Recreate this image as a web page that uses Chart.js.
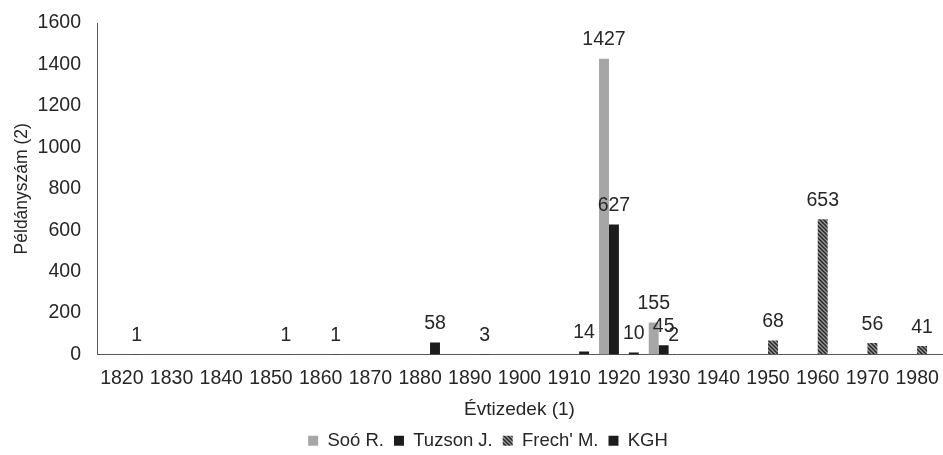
<!DOCTYPE html>
<html>
<head>
<meta charset="utf-8">
<script src="https://cdn.jsdelivr.net/npm/chart.js@4"></script>
<style>
  html, body { margin: 0; padding: 0; background: #fff; }
  #wrap { width: 943px; height: 455px; }
</style>
</head>
<body>
<div id="wrap"><canvas id="chart"></canvas></div>
<script>
// decades on the x axis
const decades = ['1820', '1830', '1840', '1850', '1860', '1870', '1880', '1890', '1900',
                 '1910', '1920', '1930', '1940', '1950', '1960', '1970', '1980'];

// specimen counts per collector (null = no bar, no label)
const sooR    = [null, null, null, null, null, null, null, null, null, null, 1427, 155, null, null, null, null, null];
const tuzsonJ = [null, null, null, null, null, null, null, null, null, null, 627, 45, null, null, null, null, null];
const frechM  = [null, null, null, null, null, null, null, null, null, null, null, 2, null, 68, 653, 56, 41];
const kgh     = [1, null, null, 1, 1, null, 58, 3, null, 14, 10, null, null, null, null, null, null];

const yTicks = [0, 200, 400, 600, 800, 1000, 1200, 1400, 1600];

const FONT = '"Liberation Sans", Arial, sans-serif';
const TEXT = '#262626';

// diagonal hatch for Frech' M.
function makeHatch() {
    const c = document.createElement('canvas');
    c.width = 4; c.height = 4;
    const g = c.getContext('2d');
    g.fillStyle = '#9a9a9a';
    g.fillRect(0, 0, 4, 4);
    g.strokeStyle = '#262626';
    g.lineWidth = 1.5;
    g.beginPath();
    g.moveTo(-1, -1); g.lineTo(5, 5);
    g.moveTo(-3, 1); g.lineTo(1, 5);
    g.moveTo(3, -1); g.lineTo(5, 1);
    g.stroke();
    return g.createPattern(c, 'repeat');
}

// value labels above bars
const valueLabels = {
    id: 'valueLabels',
    afterDatasetsDraw(chart) {
        const ctx = chart.ctx;
        ctx.save();
        ctx.font = '19.5px ' + FONT;
        ctx.fillStyle = TEXT;
        ctx.textAlign = 'center';
        ctx.textBaseline = 'bottom';
        chart.data.datasets.forEach((ds, i) => {
            const meta = chart.getDatasetMeta(i);
            meta.data.forEach((bar, j) => {
                const v = ds.data[j];
                if (v === null || v === undefined) return;
                ctx.fillText(String(v), bar.x, bar.y - 9);
            });
        });
        ctx.restore();
    }
};

const hatch = makeHatch();

new Chart(document.getElementById('chart'), {
    type: 'bar',
    data: {
        labels: decades,
        datasets: [
            { label: 'Soó R.', data: sooR, backgroundColor: '#a6a6a6', borderWidth: 0 },
            { label: 'Tuzson J.', data: tuzsonJ, backgroundColor: '#1c1c1c', borderWidth: 0 },
            { label: "Frech' M.", data: frechM, backgroundColor: hatch, borderWidth: 0 },
            { label: 'KGH', data: kgh, backgroundColor: '#1c1c1c', borderWidth: 0 }
        ]
    },
    options: {
        responsive: true,
        maintainAspectRatio: false,
        animation: false,
        devicePixelRatio: 1,
        layout: { padding: { top: 0, right: 1, left: 34, bottom: -5 } },
        datasets: { bar: { categoryPercentage: 0.8, barPercentage: 1.0 } },
        scales: {
            x: {
                grid: { display: false, drawTicks: false },
                border: { display: true, color: '#595959', width: 1 },
                ticks: { color: TEXT, font: { family: FONT, size: 19.5 }, padding: 12, maxRotation: 0, autoSkip: false },
                title: { display: true, text: 'Évtizedek (1)', color: TEXT, font: { family: FONT, size: 19 }, padding: { top: 8, bottom: 0 } },
                afterFit: (scale) => { scale.paddingLeft = 0; scale.paddingRight = 0; scale.height = 67; }
            },
            y: {
                min: 0, max: 1600,
                afterBuildTicks: (scale) => { scale.ticks = yTicks.map(v => ({ value: v })); },
                grid: { display: false, drawTicks: false },
                border: { display: true, color: '#595959', width: 1 },
                ticks: { color: TEXT, font: { family: FONT, size: 19.5 }, padding: 16, callback: (v) => String(v) },
                title: { display: true, text: 'Példányszám (2)', color: TEXT, font: { family: FONT, size: 17.5 }, padding: { top: -22, bottom: 4 } },
                afterFit: (scale) => { scale.width = 63; scale.paddingTop = 23; }
            }
        },
        plugins: {
            legend: {
                position: 'bottom',
                labels: {
                    color: TEXT,
                    font: { family: FONT, size: 18.5 },
                    boxWidth: 10, boxHeight: 10,
                    padding: 10
                }
            },
            tooltip: { enabled: false }
        }
    },
    plugins: [valueLabels]
});
</script>
</body>
</html>
